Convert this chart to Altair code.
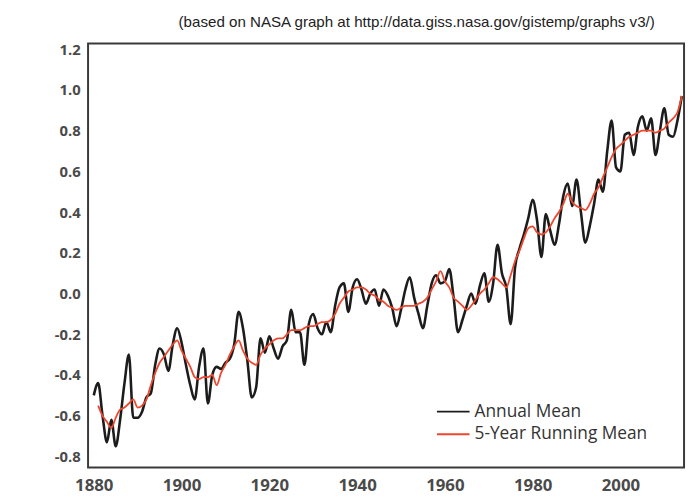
import altair as alt
import pandas as pd

# ---- data ----
years = list(range(1880, 2015))
annual_mean = [
    -0.50, -0.44, -0.60, -0.73, -0.62, -0.75, -0.62, -0.44, -0.30, -0.61,
    -0.61, -0.58, -0.51, -0.49, -0.35, -0.27, -0.30, -0.38, -0.25, -0.17,
    -0.24, -0.35, -0.45, -0.52, -0.36, -0.27, -0.54, -0.40, -0.36, -0.37,
    -0.34, -0.32, -0.25, -0.09, -0.17, -0.33, -0.51, -0.46, -0.22, -0.29,
    -0.21, -0.27, -0.32, -0.26, -0.23, -0.08, -0.19, -0.19, -0.35, -0.15,
    -0.10, -0.17, -0.20, -0.14, -0.19, -0.06, 0.03, 0.05, -0.09, 0.03,
    0.07, 0.02, -0.05, 0.00, 0.02, -0.06, 0.02, -0.01, -0.07, -0.16,
    -0.08, 0.02, 0.08, -0.02, -0.10, -0.17, -0.06, 0.05, 0.09, 0.05,
    0.06, 0.12, -0.02, -0.19, -0.13, -0.06, 0.00, -0.05, 0.04, 0.10,
    -0.04, 0.05, 0.24, 0.10, 0.03, -0.15, 0.13, 0.22, 0.29, 0.37,
    0.46, 0.36, 0.18, 0.39, 0.31, 0.24, 0.34, 0.48, 0.54, 0.43,
    0.56, 0.40, 0.25, 0.33, 0.44, 0.56, 0.50, 0.70, 0.85, 0.62,
    0.60, 0.78, 0.79, 0.68, 0.82, 0.87, 0.80, 0.86, 0.68, 0.80,
    0.91, 0.78, 0.77, 0.85, 0.97,
]

running_years = list(range(1881, 2015))
running_mean = [
    -0.55, -0.60, -0.63, -0.66, -0.61, -0.57, -0.56, -0.54, -0.52,
    -0.56, -0.55, -0.52, -0.45, -0.39, -0.34, -0.31, -0.28, -0.25, -0.23,
    -0.28, -0.32, -0.36, -0.41, -0.42, -0.41, -0.41, -0.40, -0.45, -0.39,
    -0.35, -0.30, -0.26, -0.23, -0.28, -0.32, -0.34, -0.35, -0.30, -0.27,
    -0.25, -0.23, -0.22, -0.22, -0.20, -0.18, -0.18, -0.18, -0.17, -0.16,
    -0.16, -0.15, -0.14, -0.14, -0.13, -0.10, -0.05, -0.02, 0.01, 0.02,
    0.03, 0.03, 0.02, 0.00, -0.01, -0.03, -0.04, -0.06, -0.07, -0.08,
    -0.07, -0.06, -0.06, -0.06, -0.05, -0.04, -0.02, 0.02, 0.06, 0.11,
    0.06, 0.03, -0.02, -0.04, -0.06, -0.08, -0.06, -0.03, 0.00, 0.02,
    0.05, 0.08, 0.07, 0.05, 0.03, 0.09, 0.16, 0.21, 0.27, 0.32,
    0.33, 0.30, 0.29, 0.30, 0.33, 0.37, 0.40, 0.44, 0.49, 0.45,
    0.43, 0.42, 0.41, 0.44, 0.49, 0.52, 0.57, 0.62, 0.67, 0.71,
    0.73, 0.75, 0.77, 0.78, 0.79, 0.80, 0.80, 0.80, 0.79, 0.80,
    0.81, 0.84, 0.86, 0.89, 0.97,
]

series_names = ["Annual Mean", "5-Year Running Mean"]
series_colors = ["#1c1c1c", "#f0462d"]

x_ticks = [1880, 1900, 1920, 1940, 1960, 1980, 2000]
y_ticks = [-0.8, -0.6, -0.4, -0.2, 0.0, 0.2, 0.4, 0.6, 0.8, 1.0, 1.2]

title_text = "(based on NASA graph at http://data.giss.nasa.gov/gistemp/graphs v3/)"

# ---- build table ----
df = pd.concat([
    pd.DataFrame({"year": years, "value": annual_mean, "series": series_names[0]}),
    pd.DataFrame({"year": running_years, "value": running_mean, "series": series_names[1]}),
], ignore_index=True)

label_font = "Open Sans"

x_enc = alt.X(
    "year:Q",
    scale=alt.Scale(domain=[1878.7, 2014.5], nice=False, zero=False),
    axis=alt.Axis(values=x_ticks, format="d", title=None, grid=False, ticks=False,
                  domain=False, labelFont=label_font, labelFontSize=17,
                  labelFontWeight="bold", labelColor="#4a4a4a", labelPadding=10,
                  labelOverlap=False),
)
y_enc = alt.Y(
    "value:Q",
    scale=alt.Scale(domain=[-0.854, 1.228], nice=False, zero=False),
    axis=alt.Axis(values=y_ticks, title=None, grid=False, ticks=False, domain=False,
                  labelExpr="replace(format(datum.value, '.1f'), '\u2212', '-')",
                  labelFont=label_font, labelFontSize=15, labelFontWeight="bold",
                  labelColor="#4a4a4a", labelPadding=8, labelOverlap=False),
)
color_enc = alt.Color(
    "series:N",
    scale=alt.Scale(domain=series_names, range=series_colors),
    legend=alt.Legend(title=None, orient="none", legendX=360, legendY=363,
                      symbolType="M-2,0H2", symbolSize=272, symbolStrokeWidth=2,
                      labelFont=label_font, labelFontSize=17.5, labelColor="#333333",
                      labelOffset=12, rowPadding=5, padding=0, labelLimit=400),
)

base = alt.Chart(df).encode(x=x_enc, y=y_enc, color=color_enc)

annual = base.transform_filter(alt.datum.series == series_names[0]).mark_line(
    strokeWidth=2.6, interpolate="monotone")
running = base.transform_filter(alt.datum.series == series_names[1]).mark_line(
    strokeWidth=1.8, interpolate="monotone")

chart = (
    alt.layer(annual, running)
    .properties(
        width=603,
        height=429,
        autosize=alt.AutoSizeParams(type="none"),
        padding={"left": 81, "top": 33, "right": 4, "bottom": 27},
        title=alt.Title(title_text, font="Liberation Sans", fontSize=15.3,
                        fontWeight="normal", color="#222222", anchor="middle",
                        dx=31, offset=12),
    )
    .configure(background="white")
    .configure_view(stroke="#3a3a3a", strokeWidth=2)
)

chart.save("out.html", embed_options={"renderer": "svg", "actions": False})
